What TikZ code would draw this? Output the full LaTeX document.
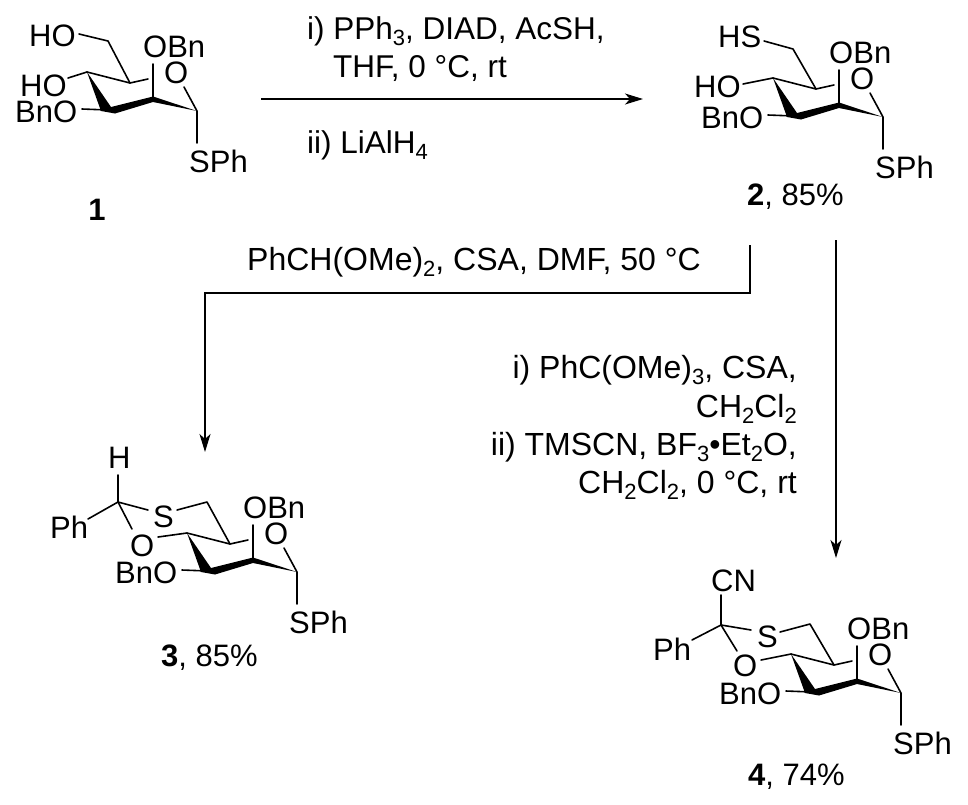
\documentclass[tikz,border=0pt]{standalone}
\usepackage{fontspec}
\setmainfont{Liberation Sans}
\usetikzlibrary{positioning,arrows.meta}
\tikzset{
  atom/.style={anchor=base west,inner sep=0pt,font=\fontsize{31}{31}\selectfont},
  reagent/.style={anchor=base west,inner sep=0pt,font=\fontsize{31.5}{31.5}\selectfont},
  reagentr/.style={anchor=base east,inner sep=0pt,font=\fontsize{32}{32}\selectfont},
  bond/.style={line width=1.6pt,line cap=round,line join=round},
  rxn/.style={line width=1.5pt,-{Stealth[length=18pt,width=11pt,inset=5pt]}},
}
\newcommand{\sub}[1]{\raisebox{-6.5pt}{\fontsize{22}{22}\selectfont #1}}
% ring atoms and the groups that all four sugars share
\newcommand{\sugarcore}{
\coordinate (c1) at (197,111);
\coordinate (c2) at (153,98);
\coordinate (c3) at (113,112);
\coordinate (c4) at (87,72);
\coordinate (c5) at (130,83);
\coordinate (c2end) at (153,64);
\coordinate (c5end) at (148,79);
\coordinate (o5end) at (184,87);
\coordinate (c1end) at (197,143);
\coordinate (c3end) at (82,109);
\node[atom] (obn) at (143,57) {OBn};
\node[atom] (oring) at (164,83) {O};
\node[atom] (bno) at (15,122) {BnO};
\node[atom] (sph) at (189,172) {SPh};
\fill (c4) -- (101,111) -- (115,113.5) -- (153,102) -- (c1) -- (153,96.5) -- (111,107) -- cycle;
\draw[bond] (c4) -- (c5) -- (c5end);
\draw[bond] (c2) -- (c2end);
\draw[bond] (o5end) -- (c1) -- (c1end);
\draw[bond] (c3end) -- (108,110);
}
\begin{document}
\begin{tikzpicture}[x=1pt,y=-1pt]
\useasboundingbox (0,0) rectangle (968,804);

\begin{scope}[name prefix=a-]
\sugarcore
\coordinate (c6) at (108,41);
\coordinate (c6end) at (79,34);
\coordinate (c4end) at (68,78);
\node[atom] (ho6) at (29,46) {HO};
\node[atom] (ho4) at (20,96) {HO};
\draw[bond] (c6end) -- (c6) -- (c5);
\draw[bond] (c4end) -- (c4);
\end{scope}
\node[atom,anchor=base] (lab1) at (97,220) {\textbf{1}};

\begin{scope}[shift={(686,6)},name prefix=b-]
\sugarcore
\coordinate (c6) at (107,43);
\coordinate (c6end) at (78,35);
\coordinate (c4end) at (57,78);
\node[atom] (hs) at (32,41) {HS};
\node[atom] (ho4) at (8,91) {HO};
\draw[bond] (c6end) -- (c6) -- (c5);
\draw[bond] (c4end) -- (c4);
\end{scope}
\node[atom] (lab2) at (747,205) {\textbf{2}, 85\%};

\begin{scope}[shift={(100,461)},name prefix=c-]
\sugarcore
\coordinate (c6) at (107,41);
\coordinate (c7) at (18,41);
\coordinate (hend) at (18,14);
\coordinate (phend) at (-12,58);
\coordinate (s7end) at (48,49);
\coordinate (s6end) at (77,49);
\coordinate (o7end) at (32,68);
\coordinate (o4end) at (58,76);
\node[atom] (h) at (8,7) {H};
\node[atom] (ph) at (-50,77) {Ph};
\node[atom] (s) at (53,66) {S};
\node[atom] (o) at (30,95) {O};
\draw[bond] (hend) -- (c7) -- (phend);
\draw[bond] (c7) -- (s7end);
\draw[bond] (s6end) -- (c6) -- (c5);
\draw[bond] (c7) -- (o7end);
\draw[bond] (o4end) -- (c4);
\end{scope}
\node[atom] (lab3) at (161,666) {\textbf{3}, 85\%};

\begin{scope}[shift={(704,582)},name prefix=d-]
\sugarcore
\coordinate (c6) at (106,42);
\coordinate (c7) at (17,43);
\coordinate (cnend) at (17,13);
\coordinate (phend) at (-12,58);
\coordinate (s7end) at (47,48);
\coordinate (s6end) at (76,50);
\coordinate (o7end) at (33,69);
\coordinate (o4end) at (57,78);
\node[atom] (cn) at (7,9) {CN};
\node[atom] (ph) at (-51,78) {Ph};
\node[atom] (s) at (53,65) {S};
\node[atom] (o) at (29,94) {O};
\draw[bond] (cnend) -- (c7) -- (phend);
\draw[bond] (c7) -- (s7end);
\draw[bond] (s6end) -- (c6) -- (c5);
\draw[bond] (c7) -- (o7end);
\draw[bond] (o4end) -- (c4);
\end{scope}
\node[atom] (lab4) at (748,785) {\textbf{4}, 74\%};

%reactions
\coordinate (topstart) at (261,99);
\coordinate (topend) at (643,99);
\draw[rxn] (topstart) -- (topend);
\node[reagent] (r1a) at (307,39) {i) PPh\sub{3}, DIAD, AcSH,};
\node[reagent] (r1b) at (333,77) {THF, 0 °C, rt};
\node[reagent] (r1c) at (307,153) {ii) LiAlH\sub{4}};

\coordinate (leftstart) at (750,245);
\coordinate (leftelbow) at (750,293);
\coordinate (leftcorner) at (205,293);
\coordinate (leftend) at (205,452);
\draw[rxn] (leftstart) -- (leftelbow) -- (leftcorner) -- (leftend);
\node[reagent,font=\fontsize{32}{32}\selectfont] (r2) at (247,270) {PhCH(OMe)\sub{2}, CSA, DMF, 50 °C};

\coordinate (rightstart) at (836,240);
\coordinate (rightend) at (836,558);
\draw[rxn] (rightstart) -- (rightend);
\node[reagentr] (r3a) at (797,378) {i) PhC(OMe)\sub{3}, CSA,};
\node[reagentr] (r3b) at (797,417) {CH\sub{2}Cl\sub{2}};
\node[reagentr] (r3c) at (797,455) {ii) TMSCN, BF\sub{3}\textbullet Et\sub{2}O,};
\node[reagentr] (r3d) at (797,493) {CH\sub{2}Cl\sub{2}, 0 °C, rt};
\end{tikzpicture}
\end{document}
